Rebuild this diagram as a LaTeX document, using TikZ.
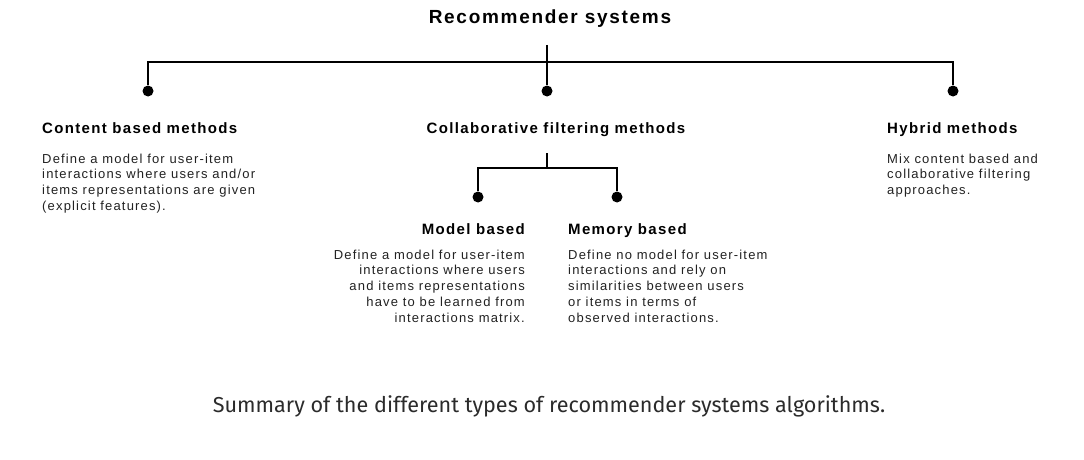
\documentclass[tikz,border=0pt]{standalone}
\usepackage{fontspec}
\usepackage{tikz}
\usetikzlibrary{positioning}

\newfontfamily\titlefont[LetterSpace=9]{Liberation Sans}
\newfontfamily\headfont[LetterSpace=9]{Liberation Sans}
\newfontfamily\bodyfont[LetterSpace=9]{Liberation Sans}
\newfontfamily\capfont{Fira Sans}
\definecolor{inkgray}{HTML}{222222}
\definecolor{capgray}{HTML}{2B2B2B}
% lines of a text block, baseline on the first line
\newcommand{\textlines}[2]{\begin{tabular}[t]{@{}#1@{}}#2\end{tabular}}

\begin{document}
\begin{tikzpicture}
%Recommender systems overview
	[
	 	 %Styles
       x=1pt, y=-1pt,
       inner sep=0pt,
       title_node/.style={font=\titlefont\bfseries\fontsize{19}{21}\selectfont,text=black},
       head_node/.style={font=\headfont\bfseries\fontsize{15}{17}\selectfont,text=black},
       body_node/.style={font=\bodyfont\fontsize{13}{15.8}\selectfont,text=inkgray},
       dot_node/.style={circle,fill=black,minimum size=11pt,inner sep=0pt},
       caption_node/.style={font=\capfont\fontsize{21.6}{25}\selectfont,text=capgray},
       link_line/.style={draw=black,line width=1.2pt}
    ]
    \useasboundingbox[fill=white] (0,0) rectangle (1084,460);

    %Node placement
    %Level 0
    \node (root) [title_node,anchor=base] at (550,24) {Recommender systems};
    \coordinate (roottop) at (547,45);
    \coordinate (rootjoin) at (547,62);
    %Level 1
    \node (dcontent) [dot_node] at (148,91) {};
    \node (dcollab) [dot_node] at (547,91) {};
    \node (dhybrid) [dot_node] at (953,91) {};
    \node (hcontent) [head_node,anchor=base west] at (42,133) {Content based methods};
    \node (hcollab) [head_node,anchor=base] at (556,133) {Collaborative filtering methods};
    \node (hhybrid) [head_node,anchor=base west] at (887,133) {Hybrid methods};
    \node (bcontent) [body_node,anchor=base west] at (42,163)
       {\textlines{l}{Define a model for user-item\\interactions where users and/or\\items representations are given\\(explicit features).}};
    \node (bhybrid) [body_node,anchor=base west] at (887,163)
       {\textlines{l}{Mix content based and\\collaborative filtering\\approaches.}};
    %Level 2
    \coordinate (subtop) at (547,153);
    \coordinate (subjoin) at (547,168);
    \node (dmodel) [dot_node] at (478,197) {};
    \node (dmemory) [dot_node] at (617,197) {};
    \node (hmodel) [head_node,anchor=base east] at (525,234) {Model based};
    \node (hmemory) [head_node,anchor=base west] at (568,234) {Memory based};
    \node (bmodel) [body_node,anchor=base east] at (525,259)
       {\textlines{r}{Define a model for user-item\\interactions where users\\and items representations\\have to be learned from\\interactions matrix.}};
    \node (bmemory) [body_node,anchor=base west] at (568,259)
       {\textlines{l}{Define no model for user-item\\interactions and rely on\\similarities between users\\or items in terms of\\observed interactions.}};
    %Caption
    \node (caption) [caption_node,anchor=base] at (549,412)
       {Summary of the different types of recommender systems algorithms.};

    %Edges
    \path[link_line]
       (roottop) -- (rootjoin)
       (rootjoin) -- (dcollab)
       (dcontent) |- (rootjoin) -| (dhybrid)
       (subtop) -- (subjoin)
       (dmodel) |- (subjoin) -| (dmemory);
\end{tikzpicture}
\end{document}
